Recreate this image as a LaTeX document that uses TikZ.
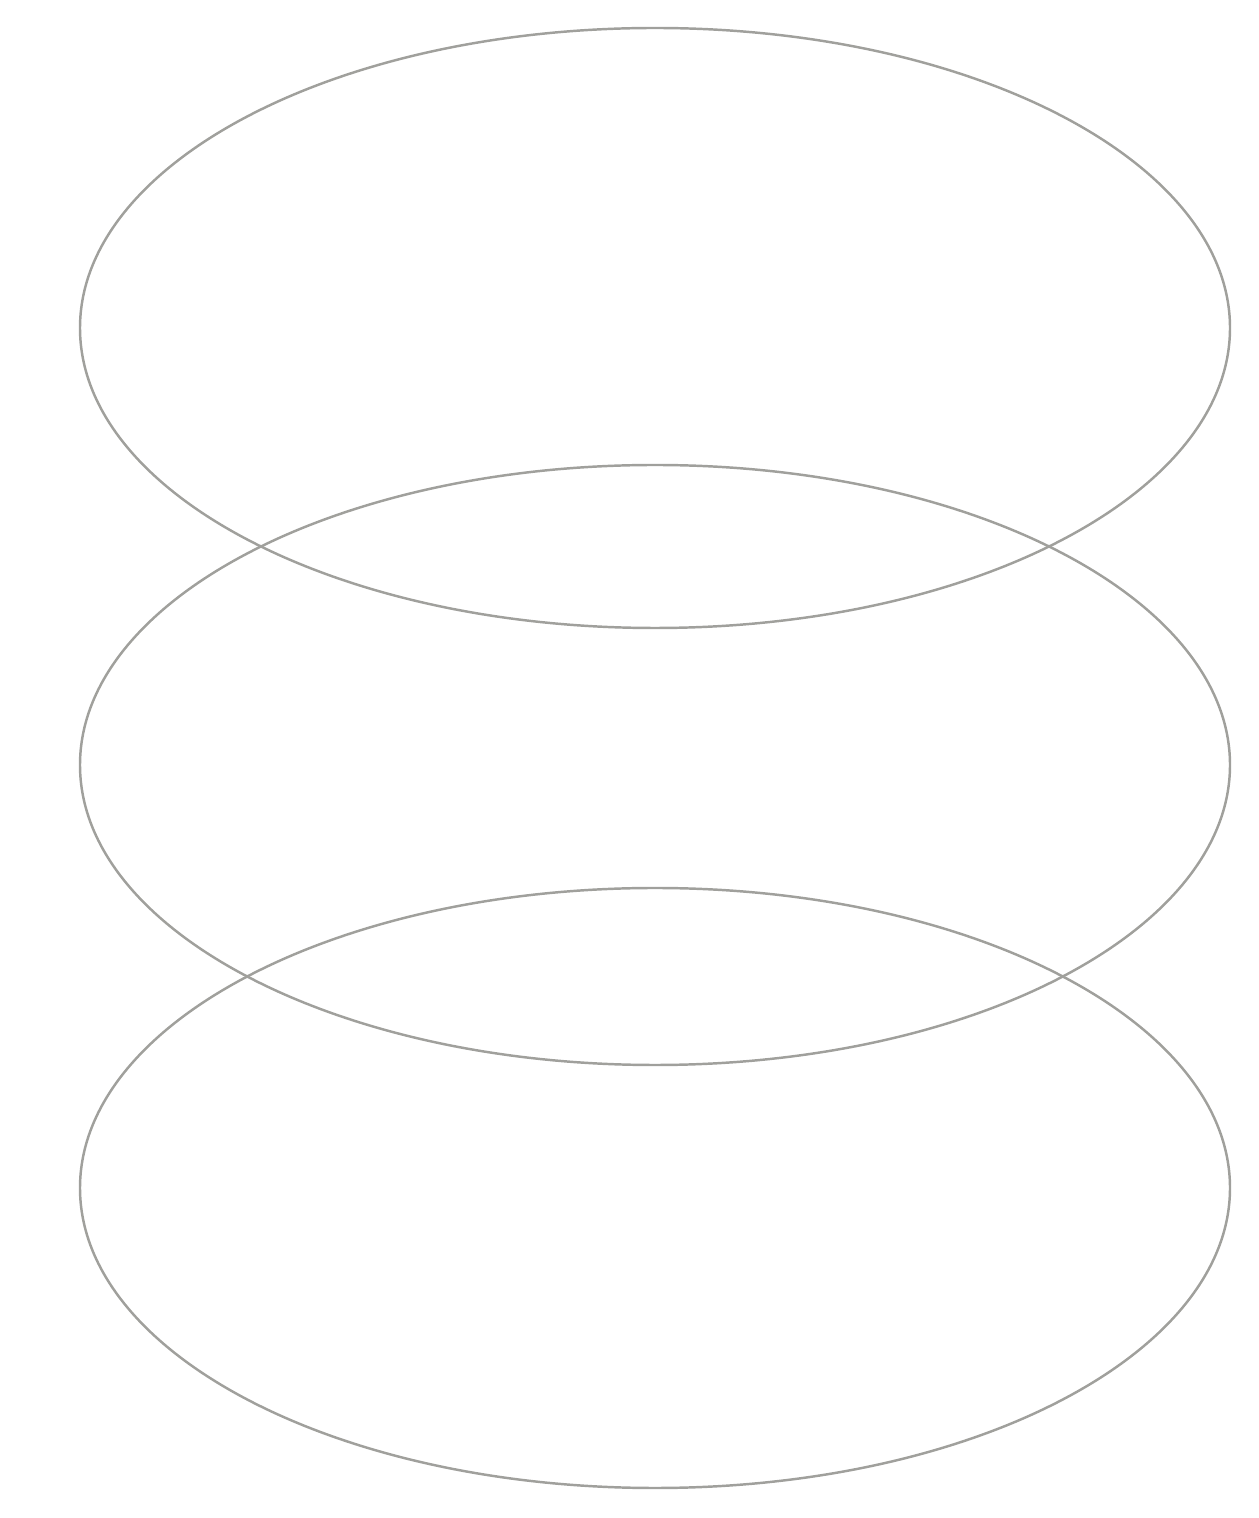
\documentclass[tikz,border=0pt]{standalone}
\usepackage{tikz}
\usetikzlibrary{shapes.geometric, positioning}
\definecolor{layergray}{RGB}{160,160,156}

\begin{document}
\begin{tikzpicture}[layer/.style={draw=layergray, line width=0.7pt, ellipse, inner sep=0pt, minimum width=11.5cm, minimum height=6cm}]
        \useasboundingbox (0,0) rectangle (12.59,15.18);
        \node[layer] (upper) at (6.55,11.90) {};
        \node[layer] (middle) at (6.55,7.53) {};
        \node[layer] (lower) at (6.55,3.30) {};
    \end{tikzpicture}
\end{document}
